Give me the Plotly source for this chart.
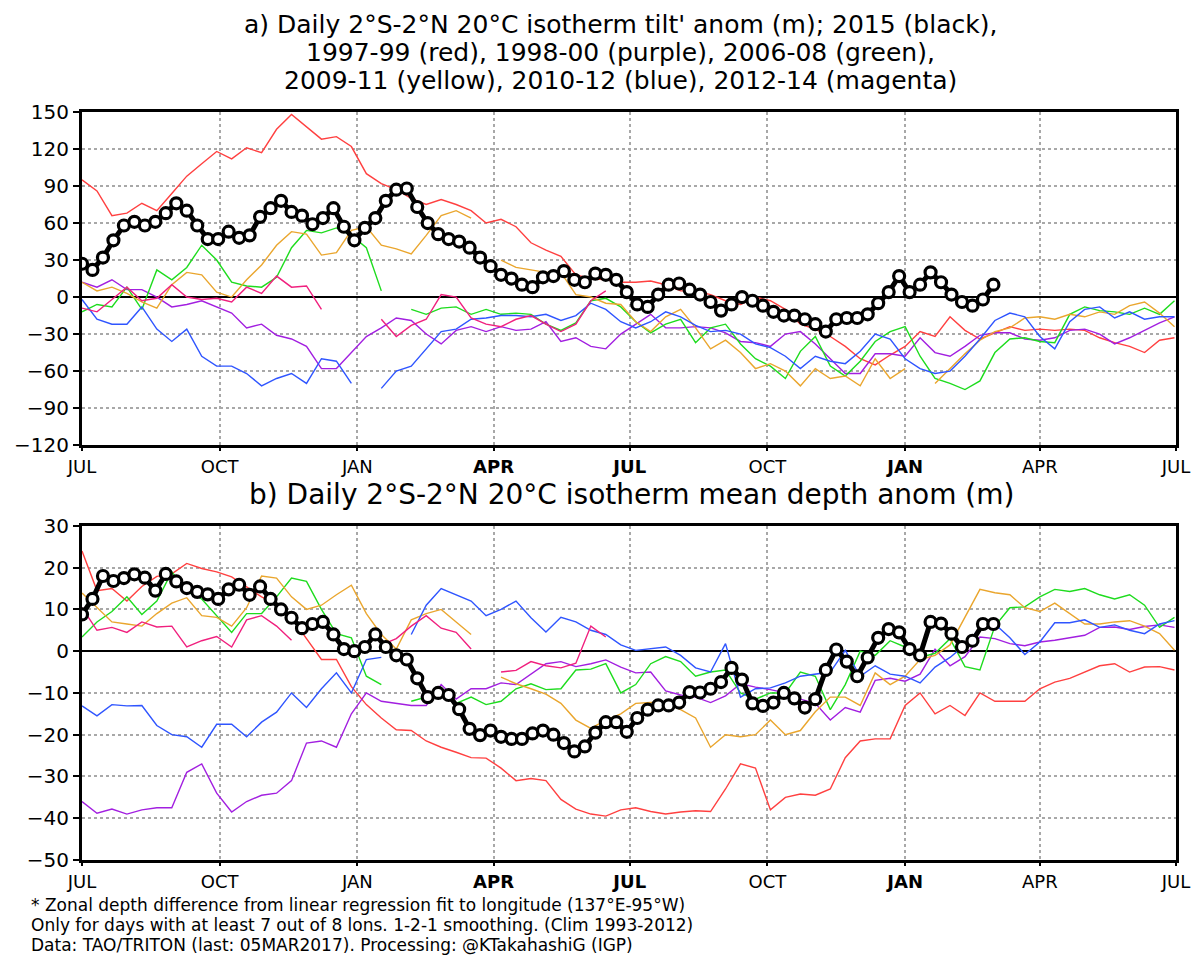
import plotly.graph_objects as go
from datetime import date, timedelta

BASE = date(2015, 7, 1)
END = date(2017, 7, 1)

# sample days (offset from 1 Jul 2015)
DAYS_COLOR = list(range(0, 731, 10))
DAYS_BLACK = list(range(0, 610, 7))

TICK_DATES = ["2015-07-01", "2015-10-01", "2016-01-01", "2016-04-01", "2016-07-01",
              "2016-10-01", "2017-01-01", "2017-04-01", "2017-07-01"]
TICK_TEXT = ["JUL", "OCT", "JAN", "<b>APR</b>", "<b>JUL</b>", "OCT", "<b>JAN</b>", "APR", "JUL"]

N = None

# ---------------- panel a: tilt anomaly (m) ----------------
A_BLACK = [27, 22, 32, 46, 58, 61, 58, 61, 68, 76,
           70, 58, 47, 47, 53, 48, 50, 65, 72, 78,
           69, 66, 59, 64, 72, 57, 46, 56, 64, 78,
           87, 88, 73, 60, 51, 47, 45, 40, 32, 25,
           18, 15, 10, 8, 16, 17, 21, 14, 12, 19,
           18, 14, 4, -6, -8, 2, 10, 11, 6, 2,
           -4, -11, -6, 0, -3, -7, -12, -15, -15, -18,
           -22, -28, -18, -17, -17, -14, -5, 4, 17, 4,
           10, 20, 12, 2, -4, -7, -2, 10]
A_RED = [95, 86, 66, 68, 76, 70, 84, 98, 108, 118,
         112, 121, 117, 136, 148, 138, 128, 130, 122, 100,
         92, 87, 80, 75, 79, 75, 70, 60, 63, 57,
         44, 38, 33, 18, 15, 14, 12, 12, 13, 10,
         5, 5, 2, -3, -6, 0, -3, -10, -22, -26,
         -32, -40, -50, -55, -47, -40, -28, -32, -16, -27,
         -34, -29, -24, -27, -26, -27, -26, -27, -33, -37,
         -40, -45, -35, -33]
A_PURPLE = [12, 8, 14, 6, 6, 0, -8, -6, -3, -8,
            -13, -25, -22, -31, -34, -40, -58, -58, -45, -32,
            -25, -17, -19, -30, -38, -27, -24, -28, -24, -27,
            -26, -20, -36, -33, -40, -42, -30, -22, -14, -25,
            -25, -24, -25, -29, -36, -37, -40, -30, -28, -38,
            -50, -62, -62, -46, -46, -48, -33, -45, -48, -40,
            -31, -29, -29, -34, -35, -33, -27, -26, -30, -38,
            -33, -27, -21, -16]
A_GREEN = [-12, -6, -8, 8, -10, 22, 14, 24, 42, 30,
           12, 9, 8, 16, 40, 54, 52, 56, 50, 40,
           5, N, -10, -14, -9, -8, -14, -10, -14, -13,
           -14, -22, -27, -21, -3, -1, -8, -20, -29, -22,
           -18, -37, -25, -22, -38, -50, -56, -66, -44, -32,
           -56, -64, -52, -36, -28, -24, -48, -66, -70, -75,
           -68, -45, -34, -33, -36, -37, -14, -8, -11, -12,
           -14, -9, -14, -3]
A_YELLOW = [12, 5, 8, 3, -4, -9, 10, 20, 18, 4,
            0, 14, 26, 42, 53, 51, 34, 36, 54, 57,
            42, 39, 35, 50, 66, 70, 64, N, 30, 24,
            22, 20, 20, 2, 0, -5, -6, -20, -28, -16,
            -10, -25, -42, -35, -45, -58, -54, -60, -72, -58,
            -66, -64, -72, -50, -66, -58, N, -70, -58, -46,
            -35, -28, -25, -17, -16, -18, -14, -16, -12, -14,
            -7, -4, -13, -24]
A_BLUE = [-2, -18, -22, -22, -8, -26, -36, -26, -48, -56,
          -56, -62, -72, -66, -62, -70, -50, -52, -70, N,
          -74, -60, -56, -42, -28, -26, -18, -17, -15, -15,
          -16, -14, -19, -15, -5, -10, -20, -25, -20, -12,
          -16, -23, -28, -27, -30, -38, -41, -48, -58, -48,
          -52, -54, -44, -30, -34, -50, -58, -62, -60, -48,
          -34, -19, -13, -16, -32, -42, -20, -10, -8, -17,
          -12, -18, -16, -16]
A_MAGENTA = [-9, -12, -2, 8, -3, -1, 10, 0, -2, -1,
             -4, 8, 3, 17, 8, 9, -10, N, N, N,
             -18, -32, -23, -18, 2, 0, -17, -22, -24, -18,
             -15, -22, -28, -22, -3, 5, N, N, N, N,
             N, N, N, N, N, N, N, N, N, N,
             N, N, N, N, N, N, N, N, N, N,
             N, N, N, N, N, N, N, N, N, N,
             N, N, N, N]

# ---------------- panel b: mean depth anomaly (m) ----------------
B_BLACK = [8.8, 12.5, 18, 16.8, 17.5, 18.4, 17.6, 14.5, 18.5, 16.7,
           15.1, 14.2, 13.6, 12.5, 14.8, 15.9, 13.5, 15.5, 12.5, 10,
           8, 5.5, 6.5, 7, 4, 0.5, 0, 1, 4, 1,
           -1, -2, -6.5, -11, -10, -10.5, -13.9, -18.6, -20.1, -19,
           -20.5, -21, -21, -19.7, -19, -20, -22, -24, -22.8, -19.5,
           -17, -17, -19.3, -16, -14, -13, -13, -12.3, -9.8, -9.9,
           -9, -7.4, -4, -6.8, -12.5, -13.1, -12.3, -10, -11.3, -13.5,
           -11.5, -4.5, 0.4, -2.5, -6, -1.5, 3.2, 5.3, 4.5, 0.5,
           -1, 7, 6.6, 4.2, 1, 2.5, 6.5, 6.5]
B_RED = [24, 14.5, 15, 12, 15.5, 17.9, 18.5, 21, 19.8, 19,
         17.8, 15.5, 13, 11.2, 8, 3, -2, -2, -8.5, -12.8,
         -16, -18.8, -19, -21.5, -23, -24.2, -25.5, -25.6, -28, -31,
         -30.5, -31, -35.5, -37.8, -39, -39.5, -38, -37.5, -38.4, -39,
         -38.5, -38.2, -38.4, -33, -27, -28, -38, -35, -34.2, -34.5,
         -33, -25.5, -21.5, -21, -21, -13, -10, -15, -13, -15.4,
         -10, -12, -12, -12, -9, -7.4, -6.5, -5, -3.5, -3,
         -5, -3.8, -3.7, -4.5]
B_PURPLE = [-36, -38.8, -37.8, -39, -38, -37.5, -37.5, -29, -27, -34,
            -38.5, -36, -34.5, -34, -31, -22, -21.5, -23, -15, -10,
            -12, -12.5, -13, -13, -8, -11.5, -9, -9, -7.6, -8,
            -5.5, -3, -2.5, -3.7, -3, -2.1, -3.8, -5.2, -5, -9.5,
            -10.5, -11, -12.3, -10.7, -7.8, -8.6, -9.2, -10, -11.5, -12.5,
            -16.5, -13.5, -14.6, -7, -6.5, -7.2, -5.5, 0.5, -3.5, -1.3,
            3.4, 3, 1.8, 1.3, 2.2, 2.6, 3.2, 3.8, 5.7, 5.8,
            5.2, 5.9, 6.3, 5.7]
B_GREEN = [3.4, 7, 9.5, 13, 8.8, 12, 19, 14.3, 12.5, 8.5,
           4.5, 9, 9, 13, 17.5, 16.7, 10, 4.2, 3.2, -6,
           -8, N, -12, -11, -10, -12.5, -11, -12.8, -12, -9,
           -7.8, -9.2, -9, -4.5, -4.3, -3, -10, -8, -3, -1.3,
           -2.5, -6, -5, -4.5, -10, -11.5, -10, -10, -5, -6,
           -14, -8, 0, -1, 2.5, 1, -1.5, -0.5, 3, -3.7,
           -4.5, 6, 10.4, 10.6, 13, 14.8, 14.3, 15, 13.5, 12.5,
           13.5, 11, 5.7, 8.1]
B_YELLOW = [13.9, 10.5, 7, 6.5, 6, 9, 11.5, 12.8, 8.5, 8.1,
            6, 10.4, 18, 17.5, 13, 10, 11, 13.5, 15.8, 9,
            4, 0.5, 7.5, 9, 10, 7, 4, N, -6.2, -7.8,
            -9, -10.3, -12.5, -16.5, -18.5, -16.5, -15, -12.5, -12.3, -12.3,
            -14, -16, -23, -20, -20.5, -20, -16.5, -20, -19, -14.5,
            -11, -11, -13, -5.2, -8, -6, -2, -1, 1.5, 8,
            14.8, 14, 13.5, 10.4, 9.5, 11.5, 9, 6.5, 6.5, 7,
            7.3, 6, 4.2, 0.2]
B_BLUE = [-13.1, -15.5, -12.8, -13.1, -13, -17.8, -20, -20.5, -23, -17.5,
          -17.5, -20.5, -17, -14.6, -10, -13.5, -9, -5.2, -10, -2,
          -1.5, N, 4, 11, 15, 13.5, 12, 8.5, 10, 12,
          8, 4.6, 8.1, 7, 5, 4, 1.5, 0.2, 0.6, 1,
          -1, -4, -5, 1.8, -11, -9, -8.8, -7.6, -6, -5.5,
          -5, 0.2, -6, -3.5, -5.5, -6, -7.6, -3.8, -1.5, 1.5,
          5.5, 6.5, 3.2, -0.8, 2.2, 6.8, 6.8, 7.5, 5.7, 6.3,
          5, 4.2, 6.5, 7.3]
B_MAGENTA = [10.4, 5, 5.7, 4.5, 7, 5.8, 6, 1, 2.5, 3.5,
             1, 7.5, 8.5, 6, 2.6, N, N, N, N, N,
             1.5, 3, 6, 8.5, 5.5, 4.5, 0.5, N, -5, -4.6,
             -2.5, -3.5, -4, -2.9, 6, 3.4, N, N, N, N,
             N, N, N, N, N, N, N, N, N, N,
             N, N, N, N, N, N, N, N, N, N,
             N, N, N, N, N, N, N, N, N, N,
             N, N, N, N]

COLOR_RED = "#ff4040"
COLOR_PURPLE = "#a21fe0"
COLOR_GREEN = "#1edc1e"
COLOR_YELLOW = "#eaa62e"
COLOR_BLUE = "#2f55ff"
COLOR_MAGENTA = "#f0207e"

FONT = "DejaVu Sans"


def to_dates(days):
    return [BASE + timedelta(days=d) for d in days]


XC = to_dates(DAYS_COLOR)
XB = to_dates(DAYS_BLACK)

fig = go.Figure()

panels = [
    ("x", "y", [A_RED, A_PURPLE, A_GREEN, A_YELLOW, A_BLUE, A_MAGENTA], A_BLACK),
    ("x2", "y2", [B_RED, B_PURPLE, B_GREEN, B_YELLOW, B_BLUE, B_MAGENTA], B_BLACK),
]
colors = [COLOR_RED, COLOR_PURPLE, COLOR_GREEN, COLOR_YELLOW, COLOR_BLUE, COLOR_MAGENTA]

for xa, ya, series, black in panels:
    for vals, col in zip(series, colors):
        fig.add_trace(go.Scatter(x=XC, y=vals, mode="lines", xaxis=xa, yaxis=ya,
                                 line=dict(color=col, width=1.4), showlegend=False,
                                 hoverinfo="skip"))
    fig.add_trace(go.Scatter(x=XB, y=black, mode="lines+markers", xaxis=xa, yaxis=ya,
                             line=dict(color="black", width=5),
                             marker=dict(symbol="circle", size=11, color="white",
                                         line=dict(color="black", width=3.2)),
                             showlegend=False, hoverinfo="skip"))

common_x = dict(type="date", range=[BASE.isoformat(), END.isoformat()],
                tickvals=TICK_DATES, ticktext=TICK_TEXT, automargin=False,
                showgrid=True, gridcolor="#a8a8a8", griddash="dot", gridwidth=1.6,
                showline=True, mirror=True, linecolor="black", linewidth=3,
                ticks="outside", ticklen=3, tickwidth=2, tickcolor="black",
                tickfont=dict(family=FONT, size=18, color="black"), zeroline=False)
common_y = dict(showgrid=True, gridcolor="#a8a8a8", griddash="dot", gridwidth=1.6,
                showline=True, mirror=True, linecolor="black", linewidth=3,
                ticks="outside", ticklen=6, tickwidth=2, tickcolor="black", automargin=False,
                tickfont=dict(family=FONT, size=20, color="black"),
                zeroline=True, zerolinecolor="black", zerolinewidth=2)

# the page body adds an 8px margin at the top-left; the figure is offset accordingly
fig.update_layout(
    width=1191, height=954,
    margin=dict(l=74, r=23, t=104, b=102),
    paper_bgcolor="white", plot_bgcolor="white",
    showlegend=False,
    xaxis=dict(domain=[0, 1], anchor="y", **common_x),
    yaxis=dict(domain=[0.5547, 1], anchor="x", range=[-120, 150],
               tickvals=[-120, -90, -60, -30, 0, 30, 60, 90, 120, 150], **common_y),
    xaxis2=dict(domain=[0, 1], anchor="y2", **common_x),
    yaxis2=dict(domain=[0, 0.4467], anchor="x2", range=[-50, 30],
                tickvals=[-50, -40, -30, -20, -10, 0, 10, 20, 30], **common_y),
)

title_lines = [
    ("a) Daily 2°S-2°N 20°C isotherm tilt' anom (m); 2015 (black),", 1.1173),
    ("1997-99 (red), 1998-00 (purple), 2006-08 (green),", 1.0800),
    ("2009-11 (yellow), 2010-12 (blue), 2012-14 (magenta)", 1.0427),
]
for txt, yy in title_lines:
    fig.add_annotation(text=txt, x=0.4918, y=yy, xref="paper", yref="paper",
                       xanchor="center", yanchor="middle", showarrow=False,
                       font=dict(family=FONT, size=25, color="black"))

fig.add_annotation(text="b) Daily 2°S-2°N 20°C isotherm mean depth anom (m)",
                   x=0.5027, y=0.4880, xref="paper", yref="paper",
                   xanchor="center", yanchor="middle", showarrow=False,
                   font=dict(family=FONT, size=28, color="black"))

foot = [
    ("* Zonal depth difference from linear regression fit to longitude (137°E-95°W)", -0.0600),
    ("Only for days with at least 7 out of 8 lons. 1-2-1 smoothing. (Clim 1993-2012)", -0.0867),
    ("Data: TAO/TRITON (last: 05MAR2017). Processing: @KTakahashiG (IGP)", -0.1133),
]
for txt, yy in foot:
    fig.add_annotation(text=txt, x=-0.043, y=yy, xref="paper", yref="paper",
                       xanchor="left", yanchor="middle", showarrow=False, xshift=-6,
                       font=dict(family=FONT, size=17, color="black"))

fig.write_html("out.html")
